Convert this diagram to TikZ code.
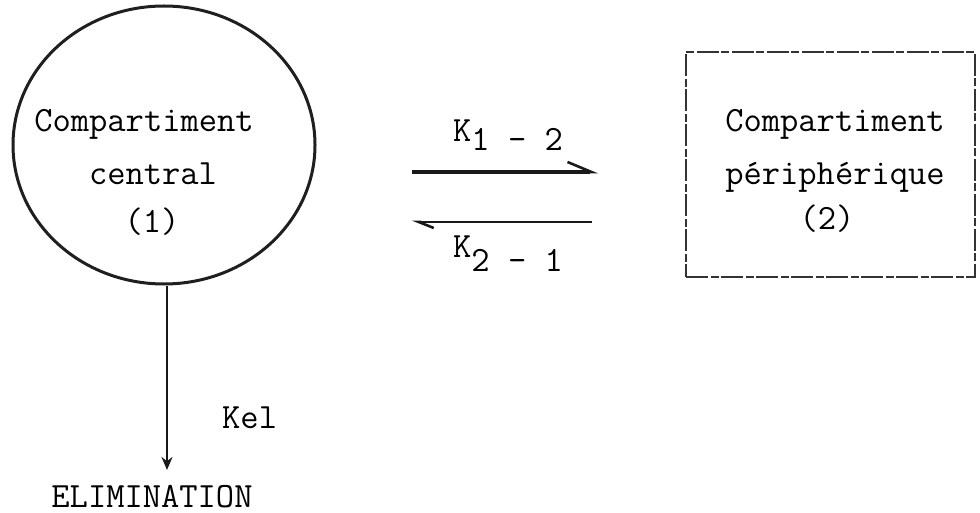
\documentclass[tikz,border=0pt]{standalone}
\usepackage{fontspec}
\usetikzlibrary{arrows.meta,shapes.geometric}
\tikzset{
  tw/.style={inner sep=0pt, anchor=base, font=\ttfamily\fontsize{35.5}{35.5}\selectfont},
  ink/.style={draw=black!88, line width=3pt},
  compbox/.style={draw=black!80, line width=1.6pt, dash pattern=on 22pt off 3pt on 8pt off 2pt, inner sep=0pt},
  flow/.style={black!90, line width=3.2pt},
}
\begin{document}
\begin{tikzpicture}[x=1pt,y=-1pt]
\useasboundingbox (0,0) rectangle (980,513);
% central compartment
\node[ink, ellipse, minimum width=302pt, minimum height=278pt] (central) at (164,145) {};
\node[tw] (c1) at (144,132) {Compartiment};
\node[tw] (c2) at (153,185) {central};
\node[tw] (c3) at (152,233) {(1)};
% peripheral compartment
\node[compbox, rectangle, minimum width=289pt, minimum height=225pt] (periph) at (830.5,164.5) {};
\node[tw] (p1) at (835,132) {Compartiment};
\node[tw] (p2) at (835,185) {périphérique};
\node[tw] (p3) at (827,230) {(2)};
% exchange arrows
\coordinate (a1s) at (412,172);
\coordinate (a1e) at (598,172);
\coordinate (a2s) at (592,222);
\coordinate (a2e) at (412,222);
\draw[flow, -{Straight Barb[harpoon,length=24pt,width=20pt,line width=2.6pt]}] (a1s) -- (a1e);
\draw[flow, line width=2.8pt, -{Straight Barb[harpoon,length=15pt,width=12pt,line width=2.6pt]}] (a2s) -- (a2e);
\node[tw, anchor=base west] (k12) at (453,142) {K\raisebox{-9pt}{1 - 2}};
\node[tw, anchor=base west] (k21) at (453,258) {K\raisebox{-14pt}{2 - 1}};
% elimination
\node[tw] (elim) at (152,507) {ELIMINATION};
\coordinate (eltop) at (167,470);
\draw[flow, line width=2.8pt, -{Stealth[length=13pt,width=11pt]}] (central.south -| eltop) -- (eltop);
\node[tw, anchor=base west] (kel) at (222,428) {Kel};
\end{tikzpicture}
\end{document}
